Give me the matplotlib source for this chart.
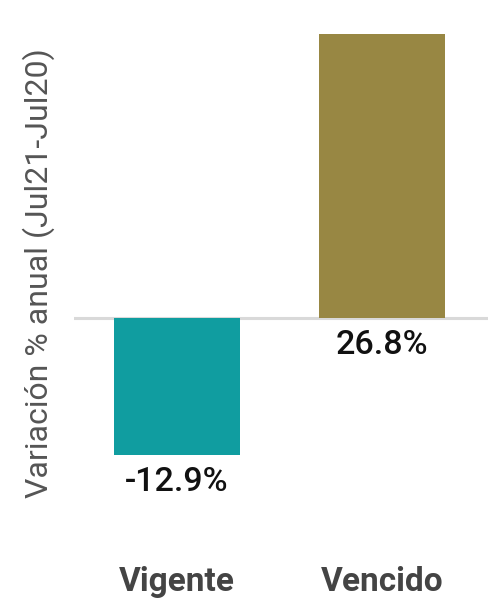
import matplotlib
matplotlib.use("Agg")
import matplotlib.pyplot as plt
import numpy as np

CATEGORIES = ["Vigente", "Vencido"]
VALUES = [-12.9, 26.8]
COLORS = ["#109DA0", "#988743"]

plt.rcParams["font.family"] = ["Roboto", "DejaVu Sans"]

W, H = 488, 599
fig = plt.figure(figsize=(W / 100, H / 100), dpi=100)
# axes in pixel terms: x from 74 to 488, y from top 0 down to 520
ax = fig.add_axes([74 / W, (H - 520) / H, (W - 74) / W, 520 / H])

x = np.arange(len(CATEGORIES))
ax.bar(x, VALUES, width=0.615, color=COLORS, zorder=2)
ax.axhline(0, color="#D9D9D9", linewidth=2.2, zorder=1)

ax.set_xlim(-0.502, 1.517)
ax.set_ylim(-19.06, 30.0)

for xi, v in zip(x, VALUES):
    base = min(v, 0)
    ax.annotate(f"{v:.1f}%", (xi, base), xytext=(0, -27), textcoords="offset pixels",
                ha="center", va="center", fontsize=24.5, fontweight="medium", color="#111111")

ax.set_xticks(x)
ax.set_xticklabels(CATEGORIES, fontsize=24, fontweight="bold", color="#444444")
ax.tick_params(axis="x", length=0, pad=33)
ax.set_yticks([])
for s in ax.spines.values():
    s.set_visible(False)

fig.text(39 / W, 1 - 273 / H, "Variación % anual (Jul21-Jul20)", rotation=90,
         ha="center", va="center", fontsize=23, color="#555555")

fig.savefig("out.png", dpi=100)
